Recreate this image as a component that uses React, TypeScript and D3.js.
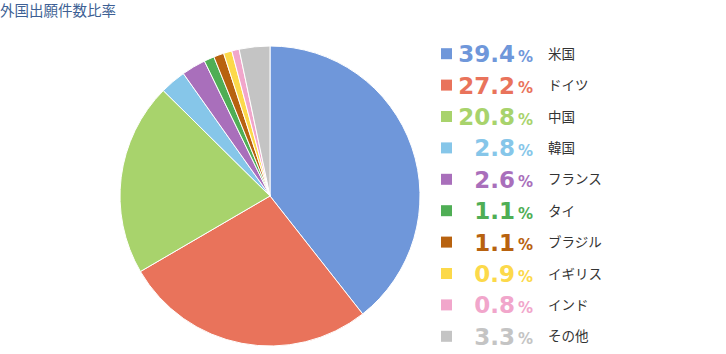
import { useEffect, useRef } from "react";
import * as d3 from "d3";

const COUNTRIES = ["米国", "ドイツ", "中国", "韓国", "フランス", "タイ", "ブラジル", "イギリス", "インド", "その他"];
const SHARES = [39.4, 27.2, 20.8, 2.8, 2.6, 1.1, 1.1, 0.9, 0.8, 3.3];
const COLORS = ["#6f97da", "#e9735b", "#a8d36c", "#86c6e9", "#a96fbb", "#4fae55", "#b8620f", "#fcd94a", "#f1a6cb", "#c4c4c4"];

const W = 726;
const H = 354;
const CX = 270;
const CY = 196;
const R = 150;

export default function App() {
  const svgRef = useRef<SVGSVGElement>(null);

  useEffect(() => {
    const svg = d3.select(svgRef.current);
    svg.selectAll("*").remove();
    svg.attr("width", W).attr("height", H).attr("viewBox", `0 0 ${W} ${H}`);

    svg.append("rect").attr("width", W).attr("height", H).attr("fill", "#fff");

    // Title
    svg.append("text")
      .attr("x", 0)
      .attr("y", 16)
      .attr("font-size", "14.5px")
      .attr("font-family", "'Noto Sans CJK JP', sans-serif")
      .attr("fill", "#3d5f94")
      .text("外国出願件数比率");

    const data = COUNTRIES.map((c, i) => ({ name: c, value: SHARES[i], color: COLORS[i] }));

    const pie = d3.pie<typeof data[number]>()
      .value((d) => d.value)
      .sort(null);

    const arc = d3.arc<d3.PieArcDatum<typeof data[number]>>()
      .innerRadius(0)
      .outerRadius(R);

    const g = svg.append("g").attr("transform", `translate(${CX},${CY})`);
    g.selectAll("path")
      .data(pie(data))
      .join("path")
      .attr("d", arc)
      .attr("fill", (d) => d.data.color)
      .attr("stroke", "#fff")
      .attr("stroke-width", 1);

    // Legend
    const rowY = d3.scaleBand<number>()
      .domain(d3.range(data.length))
      .range([38, 352]);

    const legend = svg.append("g");
    data.forEach((d, i) => {
      const y = (rowY(i) ?? 0) + rowY.bandwidth() / 2;
      legend.append("rect")
        .attr("x", 441)
        .attr("y", y - 5.5)
        .attr("width", 11)
        .attr("height", 11)
        .attr("fill", d.color);

      legend.append("text")
        .attr("x", 515)
        .attr("y", y + 8.5)
        .attr("text-anchor", "end")
        .attr("font-size", "23px")
        .attr("font-weight", "bold")
        .attr("font-family", "'DejaVu Sans', sans-serif")
        .attr("fill", d.color)
        .text(d.value.toFixed(1));

      legend.append("text")
        .attr("x", 518)
        .attr("y", y + 8)
        .attr("font-size", "15px")
        .attr("font-weight", "bold")
        .attr("font-family", "'DejaVu Sans', sans-serif")
        .attr("fill", d.color)
        .text("%");

      legend.append("text")
        .attr("x", 548)
        .attr("y", y + 5)
        .attr("font-size", "13.5px")
        .attr("font-family", "'Noto Sans CJK JP', sans-serif")
        .attr("fill", "#333")
        .text(d.name);
    });
  }, []);

  return <svg ref={svgRef} style={{ display: "block", position: "absolute", left: 0, top: 0 }} />;
}
